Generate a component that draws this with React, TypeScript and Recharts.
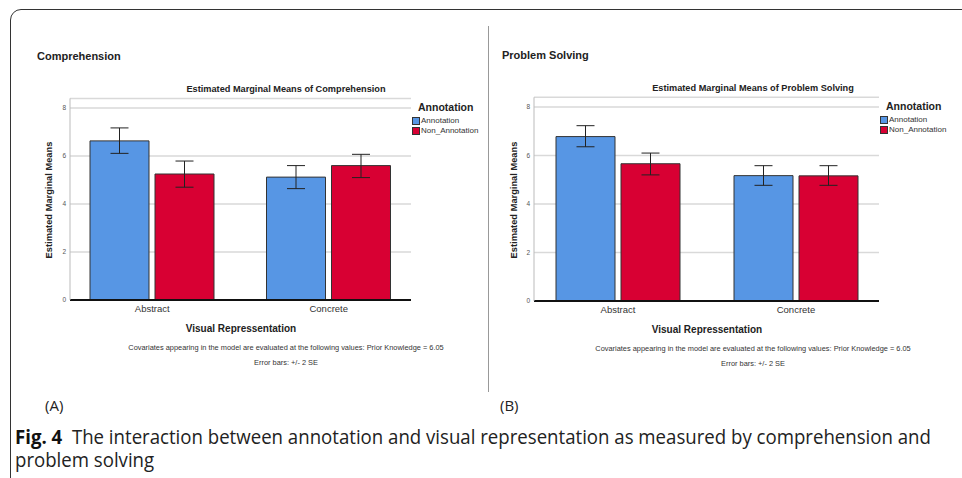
import { Bar, BarChart, CartesianGrid, ErrorBar, XAxis, YAxis } from 'recharts';

// Values
const categories = ['Abstract', 'Concrete'];
const seriesNames = ['Annotation', 'Non_Annotation'];
const yTicks = [0, 2, 4, 6, 8];

const compAnnotation = [6.63, 5.12];
const compAnnotationLow = [6.11, 4.64];
const compAnnotationHigh = [7.17, 5.6];
const compNonAnnotation = [5.25, 5.6];
const compNonAnnotationLow = [4.7, 5.1];
const compNonAnnotationHigh = [5.79, 6.07];

const probAnnotation = [6.78, 5.17];
const probAnnotationLow = [6.36, 4.77];
const probAnnotationHigh = [7.23, 5.58];
const probNonAnnotation = [5.66, 5.16];
const probNonAnnotationLow = [5.2, 4.77];
const probNonAnnotationHigh = [6.1, 5.58];

const BLUE = '#5796e4';
const RED = '#d80033';
const FONT = '"Liberation Sans", Arial, sans-serif';
const CAPTION_FONT = '"Open Sans", "Noto Sans", sans-serif';

function buildRows(
  ann: number[], annLow: number[], annHigh: number[],
  non: number[], nonLow: number[], nonHigh: number[],
) {
  return categories.map((name, i) => ({
    name,
    ann: ann[i],
    annErr: [ann[i] - annLow[i], annHigh[i] - ann[i]],
    non: non[i],
    nonErr: [non[i] - nonLow[i], nonHigh[i] - non[i]],
  }));
}

const compRows = buildRows(
  compAnnotation, compAnnotationLow, compAnnotationHigh,
  compNonAnnotation, compNonAnnotationLow, compNonAnnotationHigh,
);
const probRows = buildRows(
  probAnnotation, probAnnotationLow, probAnnotationHigh,
  probNonAnnotation, probNonAnnotationLow, probNonAnnotationHigh,
);

function Txt({ x, y, size, bold, children, color = '#222', anchor = 'center', family = FONT }: any) {
  return (
    <div
      style={{
        position: 'absolute',
        left: x,
        top: y,
        transform: anchor === 'center' ? 'translate(-50%, -50%)' : 'translate(0, -50%)',
        fontSize: size,
        fontWeight: bold ? 700 : 400,
        fontFamily: family,
        color,
        whiteSpace: 'nowrap',
        lineHeight: 1,
      }}
    >
      {children}
    </div>
  );
}

interface PanelProps {
  rows: any[];
  left: number;
  width: number;
  margin: { top: number; right: number; bottom: number; left: number };
  padding: { left: number; right: number };
}

function Panel({ rows, left, width, margin, padding }: PanelProps) {
  return (
    <div style={{ position: 'absolute', left, top: 0 }}>
      <BarChart width={width} height={400} data={rows} margin={margin} barSize={59} barGap={6}>
        <CartesianGrid vertical={false} stroke="#d9d9d9" strokeWidth={1.5} />
        <XAxis
          dataKey="name"
          padding={padding}
          axisLine={{ stroke: '#111', strokeWidth: 2 }}
          tickLine={false}
          tickSize={3}
          tick={{ fontSize: 9.5, fill: '#333', fontFamily: FONT }}
          height={30}
        />
        <YAxis
          domain={[0, 8.4]}
          ticks={yTicks}
          allowDataOverflow
          axisLine={{ stroke: '#bbb' }}
          tickLine={false}
          tickSize={3}
          tickMargin={1}
          tick={{ fontSize: 6.5, fill: '#555', fontFamily: FONT }}
          width={30}
        />
        <Bar dataKey="ann" name={seriesNames[0]} fill={BLUE} stroke="#333" strokeWidth={1} isAnimationActive={false}>
          <ErrorBar dataKey="annErr" width={9} stroke="#222" strokeWidth={1} direction="y" />
        </Bar>
        <Bar dataKey="non" name={seriesNames[1]} fill={RED} stroke="#333" strokeWidth={1} isAnimationActive={false}>
          <ErrorBar dataKey="nonErr" width={9} stroke="#222" strokeWidth={1} direction="y" />
        </Bar>
      </BarChart>
    </div>
  );
}

function LegendBox({ x, y }: { x: number; y: number }) {
  const colors = [BLUE, RED];
  return (
    <>
      <Txt x={x + 6} y={y} size={10.5} bold anchor="left">Annotation</Txt>
      {seriesNames.map((s, i) => (
        <div key={s}>
          <div
            style={{
              position: 'absolute',
              left: x,
              top: y + 10 + i * 10,
              width: 6,
              height: 6,
              background: colors[i],
              border: '1px solid #333',
            }}
          />
          <Txt x={x + 9} y={y + 14 + i * 10} size={8} color="#333" anchor="left">{s}</Txt>
        </div>
      ))}
    </>
  );
}

function Notes({ cx, y }: { cx: number; y: number }) {
  return (
    <>
      <Txt x={cx} y={y} size={7.4} color="#333">
        Covariates appearing in the model are evaluated at the following values: Prior Knowledge = 6.05
      </Txt>
      <Txt x={cx} y={y + 15} size={7.4} color="#333">Error bars: +/- 2 SE</Txt>
    </>
  );
}

function CaptionLine({ y, children }: any) {
  return (
    <div
      style={{
        position: 'absolute',
        left: 15,
        top: y,
        transform: 'translateY(-50%) scaleX(0.955)',
        transformOrigin: 'left center',
        fontSize: 19.5,
        lineHeight: 1,
        fontFamily: CAPTION_FONT,
        color: '#222',
        whiteSpace: 'nowrap',
      }}
    >
      {children}
    </div>
  );
}

export default function App() {
  return (
    <div style={{ position: 'relative', width: 962, height: 478, background: '#fff', overflow: 'hidden' }}>
      <style>{'body{margin:0}'}</style>

      {/* outer frame with rounded top-left corner */}
      <div
        style={{
          position: 'absolute',
          left: 10,
          top: 9,
          width: 1000,
          height: 520,
          border: '1.5px solid #333',
          borderTopLeftRadius: 11,
        }}
      />
      {/* divider between panels */}
      <div style={{ position: 'absolute', left: 488, top: 26, width: 1, height: 366, background: '#999' }} />

      <Panel rows={compRows} left={0} width={490} margin={{ top: 98.4, right: 79, bottom: 70, left: 40 }} padding={{ left: -6, right: -6 }} />
      <Panel rows={probRows} left={480} width={482} margin={{ top: 97.3, right: 83, bottom: 69, left: 24 }} padding={{ left: -5, right: -6 }} />

      {/* panel A texts */}
      <Txt x={37} y={56} size={11} bold anchor="left">Comprehension</Txt>
      <Txt x={286} y={90} size={9.2} bold>Estimated Marginal Means of Comprehension</Txt>
      <LegendBox x={412} y={107} />
      <div style={{ position: 'absolute', left: 50, top: 200, transform: 'translate(-50%, -50%) rotate(-90deg)' }}>
        <Txt x={0} y={0} size={9.3} bold>Estimated Marginal Means</Txt>
      </div>
      <Txt x={241} y={329} size={10} bold>Visual Repressentation</Txt>
      <Notes cx={286} y={348} />

      {/* panel B texts */}
      <Txt x={502} y={55} size={11} bold anchor="left">Problem Solving</Txt>
      <Txt x={753} y={89} size={9.2} bold>Estimated Marginal Means of Problem Solving</Txt>
      <LegendBox x={880} y={106} />
      <div style={{ position: 'absolute', left: 515, top: 200, transform: 'translate(-50%, -50%) rotate(-90deg)' }}>
        <Txt x={0} y={0} size={9.3} bold>Estimated Marginal Means</Txt>
      </div>
      <Txt x={707} y={330} size={10} bold>Visual Repressentation</Txt>
      <Notes cx={753} y={349} />

      {/* caption */}
      <Txt x={45} y={405} size={15} anchor="left" family={CAPTION_FONT}>(A)</Txt>
      <Txt x={500} y={405} size={15} anchor="left" family={CAPTION_FONT}>(B)</Txt>
      <CaptionLine y={437}>
        <b style={{ color: '#111' }}>Fig. 4</b>&nbsp; The interaction between annotation and visual representation as measured by comprehension and
      </CaptionLine>
      <CaptionLine y={460}>problem solving</CaptionLine>
    </div>
  );
}
